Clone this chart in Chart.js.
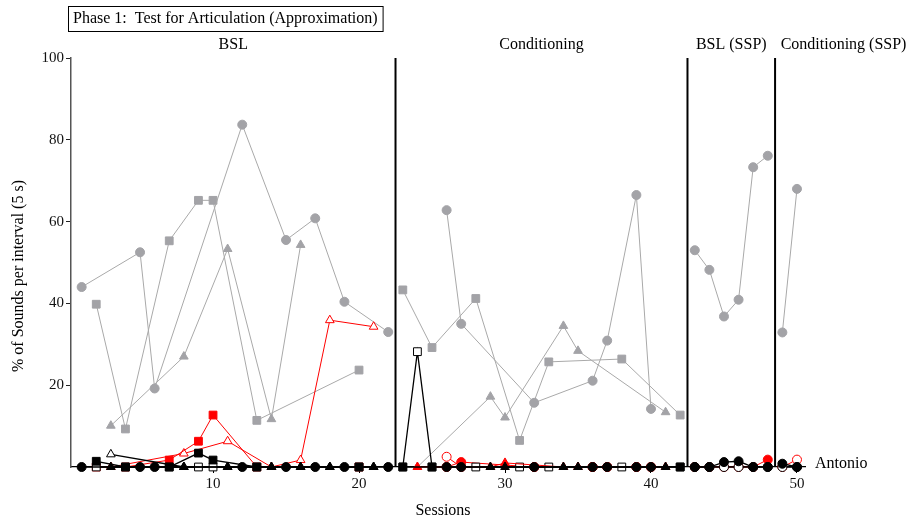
<!DOCTYPE html>
<html>
<head>
  <title>Phase 1: Test for Articulation (Approximation)</title>
  <script src="https://cdn.jsdelivr.net/npm/chart.js"></script>
  <style>body { margin: 0; background: #fff; }</style>
</head>
<body>
  <canvas id="chart" width="912" height="522"></canvas>
  <script>
    // phases (vertical lines between sessions)
    var phaseBreaks = [22.5, 42.5, 48.5];
    var phaseNames = ["BSL", "Conditioning", "BSL (SSP)", "Conditioning (SSP)"];
    var xTicks = [10, 20, 30, 40, 50];
    var yTicks = [20, 40, 60, 80, 100];

    // gray series
    var grayCircleSessions = [1, 5, 6, 12, 15, 17, 19, 22, 26, 27, 32, 36, 37, 39, 40, 43, 44, 45, 46, 47, 48, 49, 50];
    var grayCircleValues = [44, 52.5, 19.2, 83.7, 55.5, 60.8, 40.4, 33, 62.8, 35, 15.7, 21.1, 30.9, 66.5, 14.2, 53, 48.2, 36.8, 40.9, 73.3, 76.1, 32.9, 68];
    var graySquareSessions = [2, 4, 7, 9, 10, 13, 20, 23, 25, 28, 31, 33, 38, 42];
    var graySquareValues = [39.8, 9.3, 55.3, 65.2, 65.2, 11.4, 23.7, 43.3, 29.2, 41.2, 6.5, 25.7, 26.4, 12.7];
    var grayTriangleSessions = [3, 8, 11, 14, 16, 24, 29, 30, 34, 35, 41];
    var grayTriangleValues = [10.1, 27, 53.3, 11.7, 54.3, 0, 17.2, 12.1, 34.5, 28.4, 13.4];

    // black series (near zero)
    var blackCircleSessions = [1, 5, 6, 12, 15, 17, 19, 22, 26, 27, 32, 36, 37, 39, 40, 43, 44, 45, 46, 47, 48, 49, 50];
    var blackCircleValues = [0, 0, 0, 0, 0, 0, 0, 0, 0, 0, 0, 0, 0, 0, 0, 0, 0, 1.2, 1.4, 0, 0, 0.8, 0];
    var blackSquareSessions = [2, 4, 7, 9, 10, 13, 20, 23, 25, 42];
    var blackSquareValues = [1.4, 0, 0, 3.4, 1.7, 0, 0, 0, 0, 0];
    var blackTriangleSessions = [3, 8, 11, 14, 16, 18, 21, 29, 30, 34, 35, 41];
    var blackTriangleValues = [0, 0, 0, 0, 0, 0, 0, 0, 0, 0, 0, 0];
    var openSquareSessions = [2, 4, 7, 9, 10, 13, 20, 23, 24, 25, 28, 31, 33, 38, 42];
    var openSquareValues = [0, 0, 0, 0, 0, 0, 0, 0, 28.2, 0, 0, 0, 0, 0, 0];
    var openTriangleSessions = [3, 8, 11, 14, 16, 18, 21];
    var openTriangleValues = [3.1, 0, 0, 0, 0, 0, 0];
    var openCircleSessions = [43, 44, 45, 46, 47, 48, 49, 50];
    var openCircleValues = [0, 0, 0, 0, 0, 0, 0, 0];

    // red series
    var redSquareSessions = [2, 4, 7, 9, 10, 13, 20];
    var redSquareValues = [0, 0, 1.7, 6.3, 12.7, 0, 0];
    var redOpenTriangleSessions = [3, 8, 11, 14, 16, 18, 21];
    var redOpenTriangleValues = [0, 3.3, 6.3, 0, 1.7, 35.9, 34.3];
    var redTriangleSessions = [24, 29, 30, 34, 35, 41];
    var redTriangleValues = [0, 0, 1, 0, 0, 0];
    var redOpenCircleSessions = [26, 27, 32, 36, 37, 39, 40, 49, 50];
    var redOpenCircleValues = [2.5, 0, 0, 0, 0, 0, 0, 0, 1.8];
    var redCircleSessions = [26, 27, 32, 36, 37, 39, 40, 43, 44, 45, 46, 47, 48];
    var redCircleValues = [0, 1.2, 0, 0, 0, 0, 0, 0, 0, 0, 0, 0, 1.8];

    var GRAY = "#a3a3a7";
    var GRAY_LINE = "#a9a9a9";
    var RED = "#ff0000";
    var FONT = "'Liberation Serif', 'DejaVu Serif', serif";

    // break lines at the phase changes
    function pts(sessions, values) {
      var out = [];
      for (var i = 0; i < sessions.length; i++) {
        if (i > 0) {
          phaseBreaks.forEach(function (b) {
            if (sessions[i - 1] < b && sessions[i] > b) out.push({ x: b, y: null });
          });
        }
        out.push({ x: sessions[i], y: values[i] });
      }
      return out;
    }

    function ds(sessions, values, shape, stroke, fill, line, r, lw) {
      return {
        data: pts(sessions, values),
        pointStyle: shape,
        borderColor: line,
        backgroundColor: fill,
        pointBorderColor: stroke,
        pointBackgroundColor: fill,
        pointBorderWidth: 1,
        borderWidth: lw || 1,
        pointRadius: r,
        pointHoverRadius: r,
        tension: 0,
        clip: false
      };
    }

    var datasets = [
      ds(blackCircleSessions, blackCircleValues, "circle", "#000", "#000", "#000", 4.5, 1.3),
      ds(blackSquareSessions, blackSquareValues, "rect", "#000", "#000", "#000", 5.5, 1.3),
      ds(blackTriangleSessions, blackTriangleValues, "triangle", "#000", "#000", "#000", 5, 1.3),
      ds(redTriangleSessions, redTriangleValues, "triangle", RED, RED, RED, 5),
      ds(openSquareSessions, openSquareValues, "rect", "#000", "#fff", "#000", 5.5, 1.3),
      ds(openTriangleSessions, openTriangleValues, "triangle", "#000", "#fff", "#000", 5, 1.3),
      ds(openCircleSessions, openCircleValues, "circle", "#000", "#fff", "#000", 4.5, 1.3),
      ds(redSquareSessions, redSquareValues, "rect", RED, RED, RED, 5.5),
      ds(redOpenTriangleSessions, redOpenTriangleValues, "triangle", RED, "#fff", RED, 5),
      ds(redOpenCircleSessions, redOpenCircleValues, "circle", RED, "#fff", RED, 4.5),
      ds(redCircleSessions, redCircleValues, "circle", RED, RED, RED, 4.5),
      ds(grayCircleSessions, grayCircleValues, "circle", GRAY, GRAY, GRAY_LINE, 4.5),
      ds(graySquareSessions, graySquareValues, "rect", GRAY, GRAY, GRAY_LINE, 5.5),
      ds(grayTriangleSessions, grayTriangleValues, "triangle", GRAY, GRAY, GRAY_LINE, 5)
    ];

    var annotations = {
      id: "annotations",
      afterDatasetsDraw: function (chart) {
        var ctx = chart.ctx;
        var area = chart.chartArea;
        var x = chart.scales.x;
        ctx.save();
        ctx.strokeStyle = "#000";
        ctx.lineWidth = 2;
        var edges = [area.left];
        phaseBreaks.forEach(function (b) {
          var px = x.getPixelForValue(b);
          edges.push(px);
          ctx.beginPath();
          ctx.moveTo(px, area.top);
          ctx.lineTo(px, area.bottom);
          ctx.stroke();
        });
        edges.push(chart.width);
        ctx.fillStyle = "#000";
        ctx.font = "16px " + FONT;
        ctx.textAlign = "center";
        ctx.textBaseline = "middle";
        phaseNames.forEach(function (name, i) {
          ctx.fillText(name, (edges[i] + edges[i + 1]) / 2, 45);
        });
        // title box
        var title = "Phase 1:  Test for Articulation (Approximation)";
        ctx.textAlign = "left";
        ctx.fillText(title, 73, 19);
        var w = ctx.measureText(title).width;
        ctx.lineWidth = 1;
        ctx.strokeRect(68.5, 6.5, w + 10, 25);
        // participant name
        ctx.fillText("Antonio", 815, 464);
        // axis titles
        ctx.textAlign = "center";
        ctx.fillText("Sessions", 443, 511);
        ctx.translate(19, 276);
        ctx.rotate(-Math.PI / 2);
        ctx.fillText("% of Sounds per interval (5 s)", 0, 0);
        ctx.restore();
      }
    };

    new Chart(document.getElementById("chart").getContext("2d"), {
      type: "line",
      data: { datasets: datasets },
      options: {
        responsive: false,
        animation: false,
        layout: { padding: { top: 58, right: 107, bottom: 0, left: 0 } },
        plugins: { legend: { display: false }, tooltip: { enabled: false } },
        scales: {
          x: {
            type: "linear",
            min: 0.27,
            max: 50.55,
            afterFit: function (s) { s.height = 55; },
            afterBuildTicks: function (s) { s.ticks = xTicks.map(function (v) { return { value: v }; }); },
            border: { color: "#000", width: 1.3 },
            grid: { drawOnChartArea: false, tickLength: 6, tickColor: "#000" },
            ticks: { color: "#111", font: { family: FONT, size: 15 }, padding: 2, maxRotation: 0 }
          },
          y: {
            min: 0,
            max: 100,
            afterFit: function (s) { s.width = 71; },
            afterBuildTicks: function (s) { s.ticks = yTicks.map(function (v) { return { value: v }; }); },
            border: { color: "#555", width: 1.5 },
            grid: { drawOnChartArea: false, tickLength: 5, tickColor: "#222" },
            ticks: { color: "#111", font: { family: FONT, size: 15 }, padding: 2 }
          }
        }
      },
      plugins: [annotations]
    });
  </script>
</body>
</html>
